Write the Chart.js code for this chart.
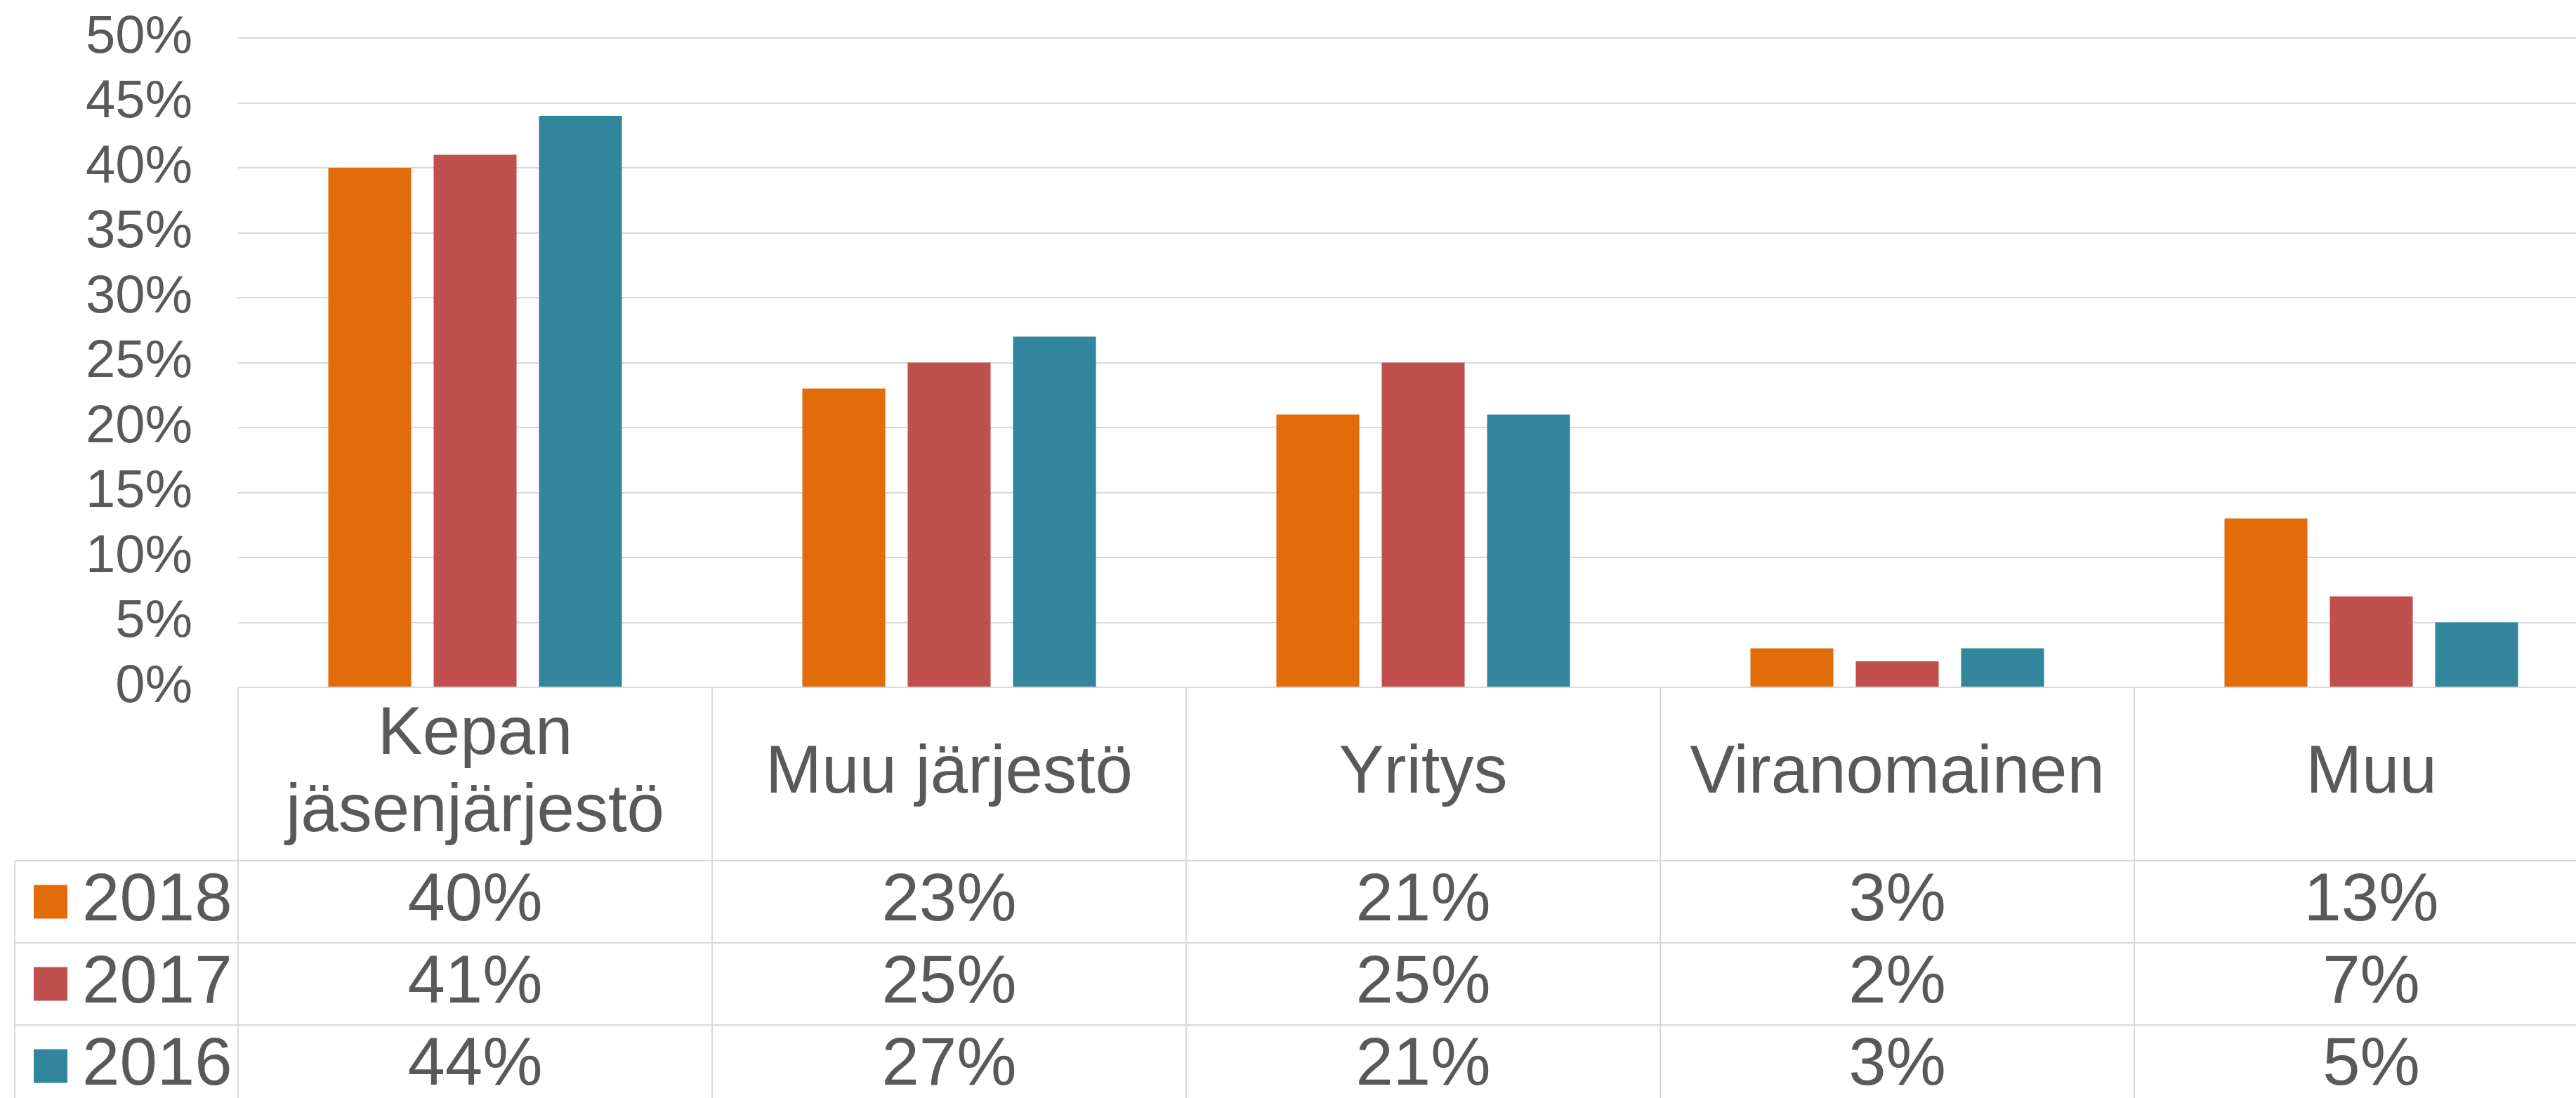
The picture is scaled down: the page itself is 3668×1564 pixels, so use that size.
<!DOCTYPE html>
<html>
<head>
<meta charset="utf-8">
<script src="https://cdn.jsdelivr.net/npm/chart.js@4.4.1/dist/chart.umd.min.js"></script>
<style>
  html, body { margin: 0; padding: 0; background: #ffffff; overflow: hidden; }
  canvas { display: block; }
</style>
</head>
<body>
<canvas id="c" width="3720" height="1600"></canvas>
<script>
// ---- data ----
const categories = [['Kepan', 'jäsenjärjestö'], 'Muu järjestö', 'Yritys', 'Viranomainen', 'Muu'];
const seriesNames = ['2018', '2017', '2016'];
const values2018 = [0.40, 0.23, 0.21, 0.03, 0.13];
const values2017 = [0.41, 0.25, 0.25, 0.02, 0.07];
const values2016 = [0.44, 0.27, 0.21, 0.03, 0.05];
const yTickLabels = ['0%', '5%', '10%', '15%', '20%', '25%', '30%', '35%', '40%', '45%', '50%'];
const seriesColors = ['#E36C0A', '#C0504D', '#31859C'];

const seriesValues = [values2018, values2017, values2016];
const TEXT = '#595959';
const LINE = '#d9d9d9';
const FONT = '"Liberation Sans", Arial, sans-serif';

const tablePlugin = {
  id: 'dataTable',
  afterDraw(chart) {
    const ctx = chart.ctx;
    const xs = chart.scales.x;
    const area = chart.chartArea;
    const n = categories.length;
    const colW = (area.right - area.left) / n;
    const top = area.bottom;
    const headerBottom = 1226;
    const rowH = 117;
    const legendLeft = 21;
    const tableBottom = headerBottom + rowH * seriesNames.length;

    ctx.save();
    ctx.strokeStyle = LINE;
    ctx.lineWidth = 2;
    ctx.beginPath();
    ctx.moveTo(area.left, top); ctx.lineTo(area.right, top);
    for (let r = 0; r <= seriesNames.length; r++) {
      const y = headerBottom + r * rowH;
      ctx.moveTo(legendLeft, y); ctx.lineTo(area.right, y);
    }
    for (let k = 0; k <= n; k++) {
      const x = area.left + k * colW;
      ctx.moveTo(x, top); ctx.lineTo(x, tableBottom);
    }
    ctx.moveTo(legendLeft, headerBottom); ctx.lineTo(legendLeft, tableBottom);
    ctx.stroke();

    ctx.fillStyle = TEXT;
    ctx.font = '96px ' + FONT;
    ctx.textAlign = 'center';
    ctx.textBaseline = 'middle';
    const headerMid = (top + headerBottom) / 2;
    categories.forEach((cat, i) => {
      const cx = xs.getPixelForValue(i);
      const lines = Array.isArray(cat) ? cat : [cat];
      lines.forEach((ln, j) => {
        const y = headerMid + (j - (lines.length - 1) / 2) * 110;
        ctx.fillText(ln, cx, y);
      });
    });
    seriesValues.forEach((vals, r) => {
      const cy = headerBottom + rowH * (r + 0.5);
      vals.forEach((v, i) => {
        const cx = xs.getPixelForValue(i);
        ctx.fillText(Math.round(v * 100) + '%', cx, cy);
      });
      ctx.fillStyle = seriesColors[r];
      ctx.fillRect(48, cy - 24, 48, 48);
      ctx.fillStyle = TEXT;
      ctx.textAlign = 'left';
      ctx.fillText(seriesNames[r], 117, cy);
      ctx.textAlign = 'center';
    });
    ctx.restore();
  }
};

new Chart(document.getElementById('c'), {
  type: 'bar',
  data: {
    labels: categories,
    datasets: seriesNames.map((name, i) => ({
      label: name,
      data: seriesValues[i],
      backgroundColor: seriesColors[i],
      borderWidth: 0,
      categoryPercentage: 0.6667,
      barPercentage: 0.787
    }))
  },
  options: {
    responsive: false,
    animation: false,
    devicePixelRatio: 1,
    layout: { padding: { top: 54, right: 6, bottom: 621, left: 0 } },
    plugins: { legend: { display: false }, tooltip: { enabled: false } },
    scales: {
      x: { display: false },
      y: {
        min: 0,
        max: 0.5,
        afterFit(scale) {
          scale.width = 339;
          scale.paddingTop = 0;
          scale.paddingBottom = 0;
        },
        border: { display: false },
        grid: { color: LINE, lineWidth: 2, drawTicks: false },
        ticks: {
          stepSize: 0.05,
          autoSkip: false,
          padding: 65,
          color: TEXT,
          font: { family: FONT, size: 76 },
          callback: (v, idx) => yTickLabels[idx]
        }
      }
    }
  },
  plugins: [tablePlugin]
});
</script>
</body>
</html>
